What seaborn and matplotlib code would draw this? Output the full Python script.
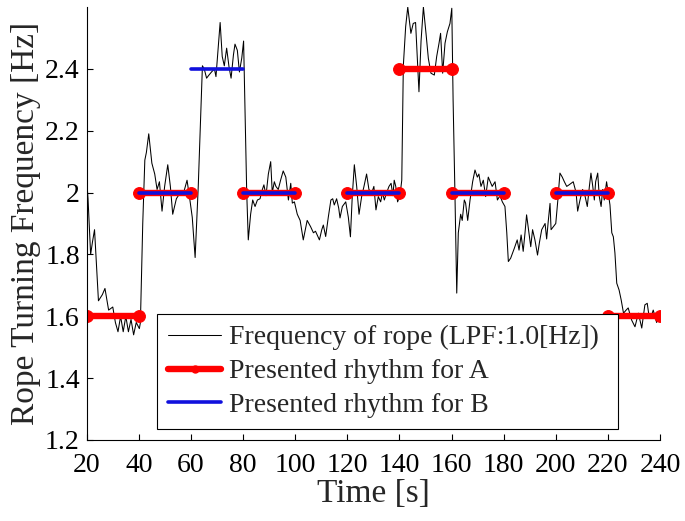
import numpy as np
import pandas as pd
import seaborn as sns
import matplotlib.pyplot as plt
from matplotlib.lines import Line2D

# rope turning frequency (LPF 1.0 Hz)
time_s = [20.0, 20.5, 21.5, 22.2, 23.0, 24.5, 26.0, 27.0, 28.4, 30.0,
          31.0, 32.0, 33.0, 34.0, 35.0, 36.0, 37.0, 38.0, 39.0, 40.2,
          40.6, 41.5, 42.3, 42.9, 43.8, 45.0, 46.1, 47.0, 47.9, 48.9,
          49.9, 51.1, 52.1, 53.0, 54.4, 55.9, 57.2, 58.5, 59.6, 60.5,
          61.6, 62.8, 64.4, 65.1, 66.0, 66.9, 67.9, 69.0, 69.6, 70.3,
          71.2, 72.0, 72.8, 73.7, 74.6, 75.4, 76.3, 76.9, 77.8, 78.6,
          79.5, 80.2, 80.8, 81.4, 82.0, 82.9, 83.7, 84.6, 85.5, 86.5,
          87.4, 88.0, 88.8, 89.7, 90.6, 91.2, 92.0, 92.6, 93.5, 94.4,
          95.4, 96.4, 97.4, 98.3, 98.9, 99.7, 100.8, 101.9, 103.1, 104.6,
          105.9, 107.0, 107.8, 109.3, 110.2, 110.8, 111.7, 112.7, 113.7, 114.4,
          115.0, 115.9, 116.7, 117.2, 118.1, 119.4, 120.4, 121.2, 121.9, 122.7,
          123.6, 124.5, 125.5, 126.4, 127.4, 128.3, 129.4, 130.2, 131.0, 131.9,
          132.8, 133.5, 134.2, 135.1, 136.0, 136.8, 137.5, 138.0, 138.6, 139.3,
          140.2, 140.9, 141.5, 142.4, 143.2, 144.4, 145.3, 146.2, 147.5, 148.3,
          149.2, 150.2, 151.1, 152.1, 153.4, 154.3, 155.2, 155.8, 156.6, 157.5,
          158.4, 159.4, 160.1, 160.6, 161.3, 162.0, 162.6, 163.5, 164.1, 164.9,
          165.4, 166.2, 167.1, 168.1, 169.0, 169.9, 170.5, 171.3, 172.2, 173.1,
          174.1, 175.6, 176.7, 177.6, 178.6, 179.5, 180.5, 181.2, 181.8, 182.7,
          184.1, 185.2, 185.9, 186.7, 187.5, 188.2, 188.8, 189.7, 190.4, 191.1,
          192.0, 193.0, 193.7, 194.6, 195.9, 196.5, 197.1, 197.8, 198.2, 199.1,
          200.0, 200.8, 201.6, 202.5, 203.3, 204.2, 205.1, 206.7, 207.8, 208.4,
          209.3, 210.3, 211.2, 212.1, 212.9, 213.5, 214.2, 214.8, 215.3, 216.1,
          216.7, 217.4, 218.0, 218.6, 219.5, 220.1, 220.8, 221.5, 222.1, 222.7,
          223.4, 224.3, 225.1, 226.0, 227.0, 227.8, 229.1, 230.4, 231.7, 233.0,
          234.2, 235.1, 235.9, 236.8, 237.4, 238.7, 239.5, 240.0]
freq_hz = [2.04, 1.98, 1.80, 1.84, 1.88, 1.65, 1.67, 1.69, 1.62, 1.63,
           1.58, 1.55, 1.60, 1.55, 1.60, 1.55, 1.59, 1.54, 1.58, 1.56,
           1.58, 1.90, 2.105, 2.13, 2.19, 2.095, 2.06, 2.01, 2.035, 1.94,
           2.02, 2.09, 2.02, 1.93, 1.98, 2.00, 2.00, 2.04, 1.976, 1.92,
           1.79, 2.02, 2.41, 2.40, 2.37, 2.38, 2.39, 2.40, 2.375, 2.45,
           2.55, 2.44, 2.41, 2.467, 2.407, 2.37, 2.445, 2.48, 2.46, 2.39,
           2.435, 2.49, 2.25, 2.00, 1.847, 1.93, 1.976, 1.955, 1.976, 1.98,
           2.01, 2.025, 1.99, 2.06, 2.10, 2.00, 2.035, 2.02, 2.01, 2.04,
           2.07, 2.05, 1.976, 2.03, 1.966, 1.97, 1.93, 1.91, 1.847, 1.91,
           1.89, 1.87, 1.875, 1.847, 1.88, 1.895, 1.858, 1.92, 1.976, 1.98,
           1.96, 1.98, 1.95, 1.918, 1.955, 1.97, 1.92, 1.857, 1.987, 2.09,
           2.02, 1.93, 1.987, 2.02, 2.06, 2.01, 2.00, 2.02, 1.944, 1.987,
           1.97, 2.00, 1.976, 2.00, 2.02, 2.03, 1.99, 2.04, 2.02, 1.97,
           1.99, 2.04, 2.41, 2.537, 2.60, 2.515, 2.547, 2.55, 2.326, 2.49,
           2.60, 2.515, 2.434, 2.386, 2.38, 2.44, 2.483, 2.515, 2.386, 2.483,
           2.52, 2.547, 2.596, 2.30, 2.00, 1.675, 1.87, 1.93, 1.91, 1.976,
           1.966, 1.91, 1.976, 2.035, 2.073, 2.05, 2.06, 2.02, 2.04, 1.987,
           2.05, 2.02, 2.035, 1.976, 1.99, 1.97, 1.955, 1.87, 1.777, 1.788,
           1.82, 1.847, 1.814, 1.863, 1.81, 1.87, 1.928, 1.87, 1.825, 1.88,
           1.847, 1.798, 1.837, 1.88, 1.90, 1.85, 1.906, 1.965, 1.88, 1.89,
           1.90, 1.976, 2.063, 2.05, 2.035, 2.02, 2.025, 2.035, 2.00, 1.94,
           1.976, 2.01, 1.99, 1.955, 2.02, 2.063, 2.02, 1.976, 2.035, 2.063,
           1.987, 1.955, 2.01, 1.976, 2.035, 2.00, 1.96, 1.87, 1.857, 1.805,
           1.707, 1.685, 1.653, 1.61, 1.62, 1.627, 1.588, 1.566, 1.61, 1.562,
           1.637, 1.642, 1.594, 1.604, 1.62, 1.58, 1.60, 1.60]

# presented rhythms (start, end, level)
a_start = [20, 40, 80, 120, 140, 160, 200, 220]
a_end = [40, 60, 100, 140, 160, 180, 220, 240]
a_level = [1.6, 2.0, 2.0, 2.0, 2.4, 2.0, 2.0, 1.6]

b_start = [40, 60, 80, 120, 160, 200]
b_end = [60, 80, 100, 140, 180, 220]
b_level = [2.0, 2.4, 2.0, 2.0, 2.0, 2.0]

x_ticks = [20, 40, 60, 80, 100, 120, 140, 160, 180, 200, 220, 240]
y_ticks = [1.2, 1.4, 1.6, 1.8, 2.0, 2.2, 2.4]
y_ticklabels = ["1.2", "1.4", "1.6", "1.8", "2", "2.2", "2.4"]

sns.set_style("white")
plt.rcParams['font.family'] = ['Liberation Serif', 'DejaVu Serif']

df_rope = pd.DataFrame({'t': time_s, 'f': freq_hz})


def seg_frame(starts, ends, levels):
    rows = []
    for i, (s, e, lv) in enumerate(zip(starts, ends, levels)):
        rows.append((i, s, lv))
        rows.append((i, e, lv))
    return pd.DataFrame(rows, columns=['seg', 't', 'f'])


df_a = seg_frame(a_start, a_end, a_level)
df_b = seg_frame(b_start, b_end, b_level)

RED = '#ff0000'
BLUE = '#1010dd'

fig = plt.figure(figsize=(6.85, 5.21), dpi=100)
ax = fig.add_axes([0.1266, 0.1555, 0.8369, 0.831])

sns.lineplot(ax=ax, data=df_rope, x='t', y='f', color='black', lw=0.75,
             sort=False, estimator=None)
sns.lineplot(ax=ax, data=df_a, x='t', y='f', units='seg', estimator=None,
             color=RED, lw=4.6, marker='o', ms=8.5, mec=RED, mfc=RED,
             legend=False)
sns.lineplot(ax=ax, data=df_b, x='t', y='f', units='seg', estimator=None,
             color=BLUE, lw=2.6, legend=False)

ax.set_xlim(20, 240)
ax.set_ylim(1.2, 2.6)
ax.set_xticks(x_ticks)
ax.set_yticks(y_ticks)
ax.set_yticklabels(y_ticklabels)
ax.tick_params(direction='in', length=4, width=0.8, labelsize=20, pad=5,
               bottom=True, left=True, colors='black')
ax.tick_params(axis='x', pad=9.5)
for side in ['top', 'right']:
    ax.spines[side].set_visible(False)
for side in ['left', 'bottom']:
    ax.spines[side].set_color('black')
    ax.spines[side].set_linewidth(0.8)

ax.set_xlabel("Time [s]", fontsize=24, labelpad=0)
ax.set_ylabel("Rope Turning Frequency [Hz]", fontsize=24, labelpad=3)

handles = [
    Line2D([], [], color='black', lw=0.75),
    Line2D([], [], color=RED, lw=4.6, marker='o', ms=5),
    Line2D([], [], color=BLUE, lw=2.6),
]
labels = ["Frequency of rope (LPF:1.0[Hz])", "Presented rhythm for A",
          "Presented rhythm for B"]
leg = ax.legend(handles, labels, loc='lower left',
                bbox_to_anchor=(0.123, 0.025, 0.804, 0.27), mode='expand',
                fontsize=20, frameon=True, fancybox=False, framealpha=1,
                edgecolor='black', borderpad=0.4, labelspacing=0.3,
                handlelength=1.9, handletextpad=0.3, borderaxespad=0)
leg.get_frame().set_linewidth(0.8)

plt.savefig("out.png", dpi=100)
